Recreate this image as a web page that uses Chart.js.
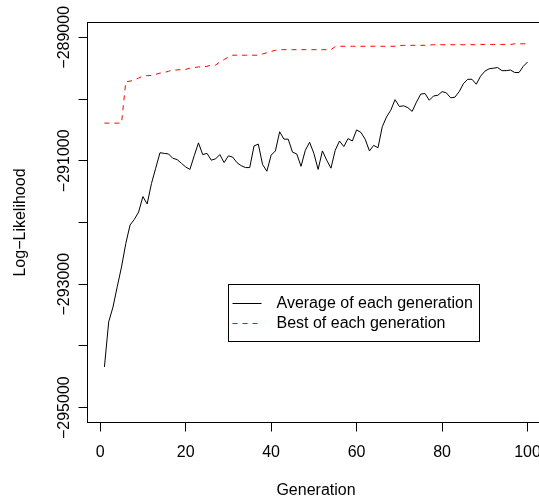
<!DOCTYPE html>
<html>
<head>
<meta charset="utf-8">
<script src="https://cdn.jsdelivr.net/npm/chart.js@4"></script>
<style>
  html, body { margin: 0; padding: 0; background: #fff; overflow: hidden; }
  #wrap { width: 560px; height: 502px; }
</style>
</head>
<body>
<div id="wrap"><canvas id="llChart" width="560" height="502"></canvas></div>
<script>
// generations 1..100
const generations = Array.from({ length: 100 }, (_, i) => i + 1);

// mean log-likelihood of the population, per generation
const avgLL = [
  -294340, -293610, -293370, -293040, -292720, -292340, -292040, -291950, -291830, -291580,
  -291700, -291370, -291120, -290870, -290880, -290890, -290960, -290980, -291040, -291100,
  -291140, -290920, -290710, -290900, -290880, -290990, -290970, -290900, -291030, -290920,
  -290940, -291030, -291080, -291110, -291110, -290760, -290730, -291060, -291170, -290910,
  -290840, -290530, -290650, -290650, -290860, -290890, -291090, -290830, -290700, -290880,
  -291140, -290840, -290990, -291120, -290830, -290680, -290770, -290640, -290680, -290500,
  -290540, -290650, -290840, -290750, -290790, -290450, -290290, -290180, -290010, -290120,
  -290110, -290140, -290200, -290050, -289920, -289910, -290020, -289950, -289940, -289880,
  -289900, -289980, -289970, -289880, -289750, -289680, -289680, -289760, -289630, -289550,
  -289510, -289500, -289490, -289540, -289540, -289530, -289570, -289570, -289470, -289400
];

// best individual so far, per generation
const bestLL = [
  -290390, -290390, -290390, -290390, -290390, -289720, -289710, -289690, -289660, -289630,
  -289620, -289620, -289600, -289580, -289570, -289550, -289530, -289530, -289520, -289520,
  -289500, -289490, -289480, -289480, -289470, -289450, -289450, -289400, -289360, -289320,
  -289290, -289290, -289290, -289290, -289290, -289290, -289290, -289270, -289250, -289230,
  -289210, -289200, -289200, -289200, -289200, -289200, -289200, -289200, -289200, -289200,
  -289200, -289200, -289200, -289200, -289150, -289145, -289145, -289145, -289145, -289145,
  -289145, -289145, -289145, -289145, -289145, -289145, -289145, -289145, -289145, -289135,
  -289130, -289130, -289130, -289130, -289130, -289130, -289125, -289120, -289120, -289120,
  -289120, -289120, -289120, -289120, -289120, -289120, -289120, -289120, -289115, -289115,
  -289115, -289115, -289115, -289115, -289115, -289115, -289105, -289105, -289105, -289105
];

const seriesNames = ['Average of each generation', 'Best of each generation'];

const xTicks = [0, 20, 40, 60, 80, 100];
const yTicks = [-295000, -294000, -293000, -292000, -291000, -290000, -289000];
const yTickLabels = ['\u2212295000', '', '\u2212293000', '', '\u2212291000', '', '\u2212289000'];

const FONT = '"Liberation Sans", Arial, Helvetica, sans-serif';

document.addEventListener('DOMContentLoaded', function () {
  Chart.defaults.font.family = FONT;
  Chart.defaults.font.size = 16;
  Chart.defaults.color = '#000';

  // box, rotated y labels and the legend, drawn the way R does them
  const rBits = {
    id: 'rBits',
    afterDraw(chart) {
      const { ctx, chartArea: a, scales: { x, y } } = chart;
      ctx.save();
      ctx.lineWidth = 1;
      ctx.strokeStyle = '#000';
      ctx.strokeRect(a.left, a.top, a.right - a.left, a.bottom - a.top);

      ctx.font = '16px ' + FONT;
      ctx.fillStyle = '#000';
      ctx.textAlign = 'center';
      ctx.textBaseline = 'middle';
      yTicks.forEach((v, i) => {
        if (!yTickLabels[i]) return;
        ctx.save();
        ctx.translate(65, y.getPixelForValue(v));
        ctx.rotate(-Math.PI / 2);
        ctx.fillText(yTickLabels[i], 0, 0);
        ctx.restore();
      });

      // legend, top-left corner at (30, -293000)
      const lx = Math.round(x.getPixelForValue(30)) + 0.5;
      const ly = Math.round(y.getPixelForValue(-293000)) + 0.5;
      const sets = chart.data.datasets;
      const textW = Math.max(...sets.map(d => ctx.measureText(d.label).width));
      const w = Math.round(4.5 + 29 + 15 + textW + 6), h = 57;
      ctx.fillStyle = '#fff';
      ctx.fillRect(lx, ly, w, h);
      ctx.strokeStyle = '#000';
      ctx.strokeRect(lx, ly, w, h);
      ctx.textAlign = 'left';
      sets.forEach((d, i) => {
        const ry = ly + 19 + i * 20;
        ctx.strokeStyle = d.borderColor;
        ctx.setLineDash(d.borderDash || []);
        ctx.beginPath();
        ctx.moveTo(lx + 4, ry);
        ctx.lineTo(lx + 33, ry);
        ctx.stroke();
        ctx.setLineDash([]);
        ctx.fillStyle = '#000';
        ctx.fillText(d.label, lx + 48, ry);
      });
      ctx.restore();
    }
  };

  const ctx = document.getElementById('llChart').getContext('2d');
  new Chart(ctx, {
    type: 'line',
    data: {
      datasets: [
        {
          label: seriesNames[0],
          data: generations.map((g, i) => ({ x: g, y: avgLL[i] })),
          borderColor: '#000000',
          borderWidth: 1,
          pointRadius: 0,
          tension: 0,
          fill: false
        },
        {
          label: seriesNames[1],
          data: generations.map((g, i) => ({ x: g, y: bestLL[i] })),
          borderColor: '#FF0000',
          borderWidth: 1,
          borderDash: [5, 5],
          pointRadius: 0,
          tension: 0,
          fill: false
        }
      ]
    },
    options: {
      responsive: false,
      animation: false,
      devicePixelRatio: 1,
      layout: { padding: { top: 22.5, right: 15.5, left: 0, bottom: 0 } },
      scales: {
        x: {
          type: 'linear',
          min: -2.96,
          max: 103.96,
          afterBuildTicks: s => { s.ticks = xTicks.map(v => ({ value: v })); },
          afterFit: s => { s.height = 79.5; },
          grid: { drawOnChartArea: false, drawTicks: true, tickLength: 9, color: '#000' },
          border: { display: false },
          ticks: { padding: 11, maxRotation: 0, autoSkip: false, color: '#000' },
          title: { display: true, text: 'Generation', color: '#000', padding: { top: 0, bottom: 2 } }
        },
        y: {
          type: 'linear',
          min: -295240,
          max: -288760,
          afterBuildTicks: s => { s.ticks = yTicks.map(v => ({ value: v })); },
          afterFit: s => { s.width = 87.5; },
          grid: { drawOnChartArea: false, drawTicks: true, tickLength: 9, color: '#000' },
          border: { display: false },
          ticks: { display: false },
          title: { display: true, text: 'Log\u2212Likelihood', color: '#000', padding: { top: 11, bottom: 0 } }
        }
      },
      plugins: {
        legend: { display: false },
        tooltip: { enabled: false }
      }
    },
    plugins: [rBits]
  });
});
</script>
</body>
</html>
